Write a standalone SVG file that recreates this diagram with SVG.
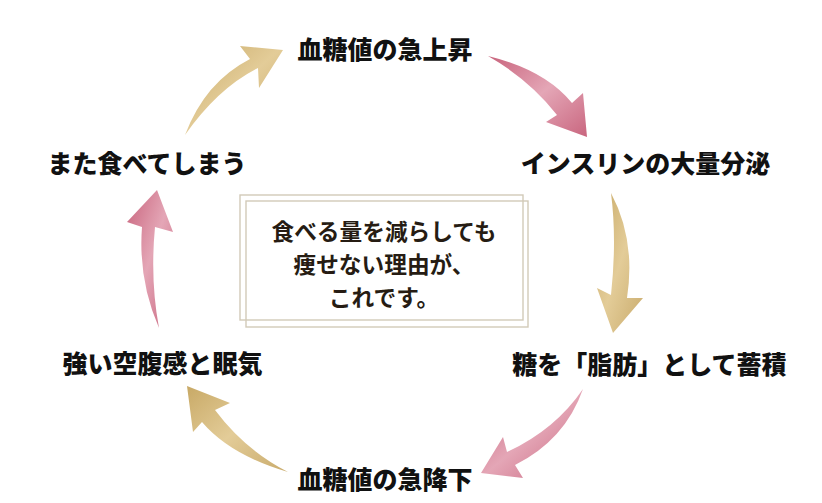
<svg xmlns="http://www.w3.org/2000/svg" width="822" height="503" viewBox="0 0 822 503">
<style>
.lbl{font-family:"Noto Sans CJK JP","Noto Sans",sans-serif;font-weight:900;font-size:25px;fill:#111;text-anchor:middle}
.msg{font-family:"Noto Sans CJK JP","Noto Sans",serif;font-weight:700;font-size:22.7px;fill:#261c13;text-anchor:middle}
.frame{fill:none;stroke:#d2cab8;stroke-width:1.4}
</style>
<defs>
<linearGradient id="gold" x1="0" y1="0" x2="1" y2="1">
<stop offset="0" stop-color="#c8a966"/><stop offset="0.5" stop-color="#e3cc98"/><stop offset="1" stop-color="#c9ab6c"/>
</linearGradient>
<linearGradient id="pink" x1="0" y1="0" x2="1" y2="1">
<stop offset="0" stop-color="#c8637c"/><stop offset="0.5" stop-color="#e4a6b6"/><stop offset="1" stop-color="#c9667f"/>
</linearGradient>
</defs>
<rect width="822" height="503" fill="#fff"/>
<g id="connectors">
<path fill="url(#gold)" d="M185,135 Q205,82 250,59 L240,46 L283,50 L259,88 L258,68 Q218,88 185,135 Z"/>
<path fill="url(#pink)" d="M488,56 Q545,70 572,103 L583,93 L587,137 L546,122 L557,115 Q530,80 488,56 Z"/>
<path fill="url(#gold)" d="M611,193 Q636,240 627,298 L643,298 L613,333 L597,288 L611,295 Q617,240 611,193 Z"/>
<path fill="url(#pink)" d="M583,389 Q565,440 515,465 L523,478 L481,473 L503,437 L507,452 Q555,430 583,389 Z"/>
<path fill="url(#gold)" d="M288,472 Q230,455 202,422 L193,432 L187,386 L230,403 L215,410 Q245,450 288,472 Z"/>
<path fill="url(#pink)" d="M159,328 Q138,280 142,227 L127,222 L157,190 L173,232 L155,227 Q150,280 159,328 Z"/>
</g>
<g id="center">
<rect class="frame" x="240" y="195" width="283" height="125"/>
<rect class="frame" x="246" y="201" width="282" height="126"/>
<text class="msg" x="384" y="240">食べる量を減らしても</text>
<text class="msg" x="384" y="273">痩せない理由が、</text>
<text class="msg" x="384" y="306">これです。</text>
</g>
<g id="n1"><text class="lbl" x="385" y="58.5">血糖値の急上昇</text></g>
<g id="n2"><text class="lbl" x="645.5" y="173">インスリンの大量分泌</text></g>
<g id="n3"><text class="lbl" x="649.5" y="373.5">糖を「脂肪」として蓄積</text></g>
<g id="n4"><text class="lbl" x="385" y="488.5">血糖値の急降下</text></g>
<g id="n5"><text class="lbl" x="162.5" y="373">強い空腹感と眠気</text></g>
<g id="n6"><text class="lbl" x="147" y="173">また食べてしまう</text></g>
</svg>
